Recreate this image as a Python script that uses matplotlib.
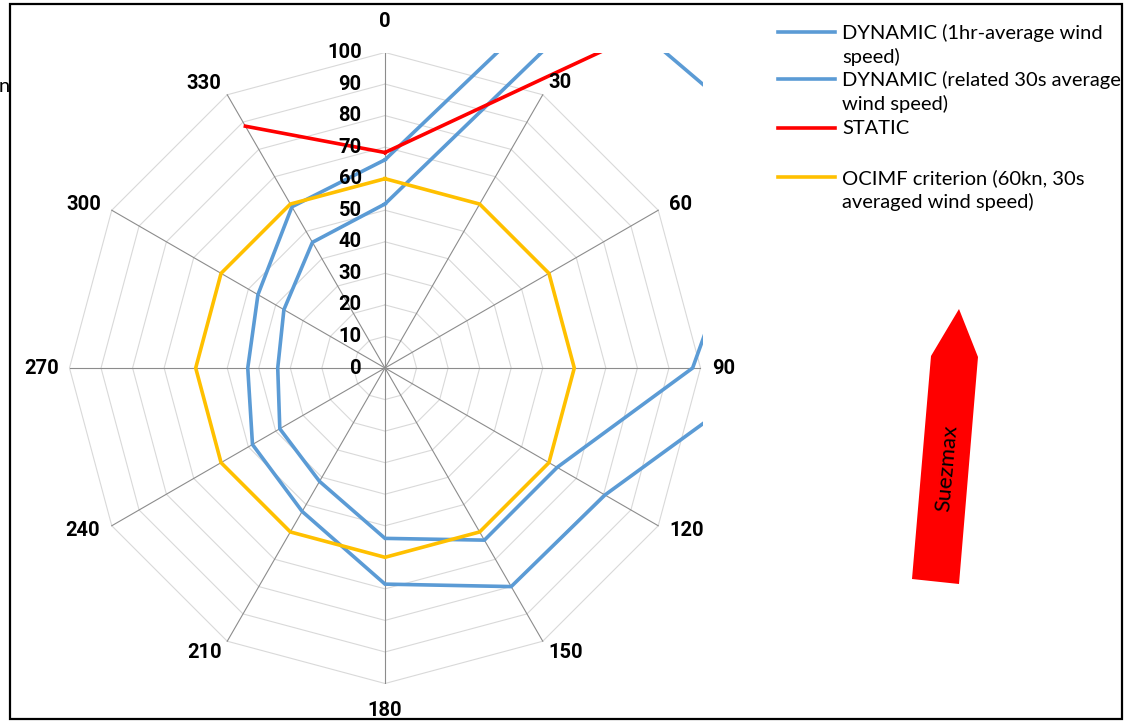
import numpy as np
import matplotlib.pyplot as plt
from matplotlib.patches import Polygon, Rectangle
from matplotlib.lines import Line2D

plt.rcParams['font.family'] = ['Lato', 'DejaVu Sans']
BOLD = ['Roboto', 'DejaVu Sans']

# wind directions (deg) and limiting wind speeds (kn)
directions = [0, 30, 60, 90, 120, 150, 180, 210, 240, 270, 300, 330]
dyn_1hr = [52, 136, 142, 97.5, 63, 63, 54, 41.5, 38.5, 34, 37, 46]
dyn_30s = [66, 170, 170, 125, 80.5, 80, 68.5, 52.5, 48.5, 43.5, 46.5, 59]
static = [68.3, 108, 700, np.nan, np.nan, np.nan, np.nan, np.nan, np.nan, np.nan, np.nan, 88.5]
ocimf = [60] * 12
rings = [0, 10, 20, 30, 40, 50, 60, 70, 80, 90, 100]

labels = ["DYNAMIC (1hr-average wind\nspeed)",
          "DYNAMIC (related 30s average\nwind speed)",
          "STATIC",
          "OCIMF criterion (60kn, 30s\naveraged wind speed)"]
colors = ['#5b9bd5', '#5b9bd5', '#ff0000', '#ffc000']

W, H = 1135, 722
fig = plt.figure(figsize=(W / 100, H / 100), dpi=100)

# radar area: centre at (385, 368) px, 3.155 px per knot
cx, cy = 385, H - 368
s = 3.155
xr, yr = 100.8, 100.0
ax = fig.add_axes([(cx - xr * s) / W, (cy - yr * s) / H, 2 * xr * s / W, 2 * yr * s / H])
ax.set_xlim(-xr, xr)
ax.set_ylim(-yr, yr)
ax.axis('off')

theta = np.radians(directions)


def to_xy(vals):
    v = np.append(np.asarray(vals, float), vals[0])
    t = np.append(theta, theta[0])
    return v * np.sin(t), v * np.cos(t)


# grid
for r in rings[1:]:
    gx, gy = to_xy([r] * len(directions))
    ax.plot(gx, gy, color='#d9d9d9', lw=0.8, zorder=1)
for t in theta:
    ax.plot([0, 100 * np.sin(t)], [0, 100 * np.cos(t)], color='#8c8c8c', lw=0.8, zorder=2)

# series
for vals, c in zip([dyn_1hr, dyn_30s, static, ocimf], colors):
    px, py = to_xy(vals)
    ax.plot(px, py, color=c, lw=2.6, zorder=3, solid_joinstyle='miter')

# radial labels
for r in rings:
    ax.text(-7.4, r, str(r), ha='right', va='center', fontsize=14.5, weight='bold',
            family=BOLD, zorder=4)

# direction labels, offset (px, y down) from the end of each spoke
label_off = [(0, -31), (17, -12), (22, -6), (23.5, 0), (28, 5), (23, 11),
             (0, 26.5), (-23, 11), (-29, 5), (-27.5, 0), (-28, -6), (-23, -11)]
for d, t, (ox, oy) in zip(directions, theta, label_off):
    ax.text(100 * np.sin(t) + ox / s, 100 * np.cos(t) - oy / s, str(d), ha='center',
            va='center', fontsize=14.5, weight='bold', family=BOLD, clip_on=False)

# legend (drawn by hand, first line aligned with the key)
leg_y = [32, 79, 128, 177]
for lab, c, yy in zip(labels, colors, leg_y):
    fig.add_artist(Line2D([778 / W, 835 / W], [1 - yy / H, 1 - yy / H], color=c, lw=2.6))
    for i, line in enumerate(lab.split('\n')):
        fig.text(842 / W, 1 - (yy + 1 + i * 24) / H, line, ha='left', va='center', fontsize=14.5)

# ship arrow
arrow = [(959, 309), (978, 357), (959, 584), (912, 579), (931, 356)]
fig.add_artist(Polygon([(x / W, 1 - y / H) for x, y in arrow], closed=True,
                       facecolor='#ff0000', edgecolor='none', transform=fig.transFigure))
fig.text(947 / W, 1 - 468 / H, 'Suezmax', rotation=85, ha='center', va='center',
         fontsize=16, rotation_mode='anchor')

# cut-off text at left edge and outer frame
fig.text(-1 / W, 1 - 87 / H, 'n', ha='left', va='center', fontsize=14.5)
fig.add_artist(Rectangle((10 / W, 1 - 719 / H), 1112 / W, 715 / H, fill=False,
                         edgecolor='black', lw=1.6, transform=fig.transFigure))

fig.savefig('out.png', dpi=100)
